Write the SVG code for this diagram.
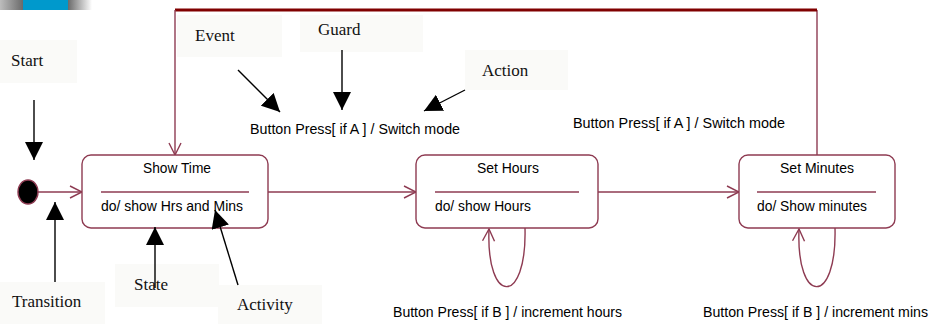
<svg xmlns="http://www.w3.org/2000/svg" width="932" height="324" viewBox="0 0 932 324">
<defs>
<linearGradient id="gl" x1="0" x2="1" y1="0" y2="0"><stop offset="0" stop-color="#bdbdbd"/><stop offset="1" stop-color="#6a6a6a"/></linearGradient>
<linearGradient id="gr" x1="0" x2="1" y1="0" y2="0"><stop offset="0" stop-color="#6a6a6a"/><stop offset="1" stop-color="#ffffff"/></linearGradient>
<marker id="tri" markerUnits="userSpaceOnUse" markerWidth="18" markerHeight="18" viewBox="0 0 16 16" refX="16" refY="8" orient="auto">
<path d="M0,0 L16,8 L0,16 Z" fill="#000"/>
</marker>
<marker id="open" markerUnits="userSpaceOnUse" markerWidth="14" markerHeight="14" viewBox="0 0 14 14" refX="13" refY="7" orient="auto">
<path d="M1,1 L13,7 L1,13" fill="none" stroke="#8e3b52" stroke-width="1.4"/>
</marker>
</defs>
<style>
.lbl{font-family:"Liberation Serif","Times New Roman",serif;font-size:17px;fill:#111}
.txt{font-family:"Liberation Sans",Arial,sans-serif;font-size:14.5px;fill:#000}
.bg{fill:#fafaf8}
.box{fill:#fff;stroke:#8e3b52;stroke-width:1.4}
.div{stroke:#8e3b52;stroke-width:1.4}
.con{fill:none;stroke:#8e3b52;stroke-width:1.4}
.ptr{stroke:#000;stroke-width:1.4;fill:none}
</style>

<g id="decor">
<rect x="0" y="0" width="23" height="10" fill="url(#gl)"/>
<rect x="23" y="0" width="45" height="10" fill="#0099cc"/>
<rect x="68" y="0" width="24" height="10" fill="url(#gr)"/>
</g>

<g id="connectors">
<path class="con" d="M38,192 L82,192" marker-end="url(#open)"/>
<path class="con" d="M268,192 L416,192" marker-end="url(#open)"/>
<path class="con" d="M598,192 L739,192" marker-end="url(#open)"/>
<path class="con" d="M817,155 L817,10"/>
<path d="M175,10 L817,10" stroke="#800000" stroke-width="3" fill="none"/>
<path class="con" d="M175,10 L175,155" marker-end="url(#open)"/>
<path class="con" d="M525,228 C527,306 486,306 489,229" marker-end="url(#open)"/>
<path class="con" d="M835,228 C837,306 796,306 799,229" marker-end="url(#open)"/>
</g>

<g id="initial">
<ellipse cx="28" cy="192" rx="10" ry="12" fill="#000" stroke="#8e3b52" stroke-width="1.4"/>
</g>

<g id="show-time">
<rect class="box" x="82" y="155" width="186" height="73" rx="9"/>
<text class="txt" x="177" y="173" text-anchor="middle" textLength="68" lengthAdjust="spacingAndGlyphs">Show Time</text>
<line class="div" x1="101" y1="192" x2="249" y2="192"/>
<text class="txt" x="101" y="211" textLength="142" lengthAdjust="spacingAndGlyphs">do/ show Hrs and Mins</text>
</g>

<g id="set-hours">
<rect class="box" x="416" y="155" width="182" height="73" rx="9"/>
<text class="txt" x="508" y="173" text-anchor="middle" textLength="62" lengthAdjust="spacingAndGlyphs">Set Hours</text>
<line class="div" x1="435" y1="192" x2="579" y2="192"/>
<text class="txt" x="435" y="211" textLength="96" lengthAdjust="spacingAndGlyphs">do/ show Hours</text>
</g>

<g id="set-minutes">
<rect class="box" x="739" y="155" width="156" height="73" rx="9"/>
<text class="txt" x="817" y="173" text-anchor="middle" textLength="74" lengthAdjust="spacingAndGlyphs">Set Minutes</text>
<line class="div" x1="757" y1="192" x2="876" y2="192"/>
<text class="txt" x="757" y="211" textLength="110" lengthAdjust="spacingAndGlyphs">do/ Show minutes</text>
</g>

<g id="transition-labels">
<text class="txt" x="250" y="134" textLength="210" lengthAdjust="spacingAndGlyphs">Button Press[ if A ] / Switch mode</text>
<text class="txt" x="573" y="128" textLength="212" lengthAdjust="spacingAndGlyphs">Button Press[ if A ] / Switch mode</text>
<text class="txt" x="393" y="317" textLength="229" lengthAdjust="spacingAndGlyphs">Button Press[ if B ] / increment hours</text>
<text class="txt" x="703" y="317" textLength="225" lengthAdjust="spacingAndGlyphs">Button Press[ if B ] / increment mins</text>
</g>

<g id="annotations">
<rect class="bg" x="0" y="40" width="77" height="43"/>
<text class="lbl" x="11" y="66">Start</text>
<line class="ptr" x1="34" y1="100" x2="34" y2="160" marker-end="url(#tri)"/>

<rect class="bg" x="177" y="15" width="105" height="42"/>
<text class="lbl" x="195" y="41">Event</text>
<line class="ptr" x1="238" y1="70" x2="280" y2="112" marker-end="url(#tri)"/>

<rect class="bg" x="300" y="15" width="123" height="37"/>
<text class="lbl" x="318" y="35">Guard</text>
<line class="ptr" x1="342" y1="50" x2="342" y2="110" marker-end="url(#tri)"/>

<rect class="bg" x="465" y="50" width="103" height="40"/>
<text class="lbl" x="482" y="76">Action</text>
<line class="ptr" x1="465" y1="90" x2="424" y2="111" marker-end="url(#tri)"/>

<rect class="bg" x="0" y="282" width="105" height="42"/>
<text class="lbl" x="12" y="307">Transition</text>
<line class="ptr" x1="55" y1="282" x2="55" y2="202" marker-end="url(#tri)"/>

<rect class="bg" x="115" y="264" width="104" height="43"/>
<text class="lbl" x="134" y="290">State</text>
<line class="ptr" x1="155" y1="288" x2="155" y2="227" marker-end="url(#tri)"/>

<rect class="bg" x="218" y="285" width="104" height="39"/>
<text class="lbl" x="237" y="310">Activity</text>
<line class="ptr" x1="238" y1="285" x2="215" y2="210" marker-end="url(#tri)"/>
</g>
</svg>
